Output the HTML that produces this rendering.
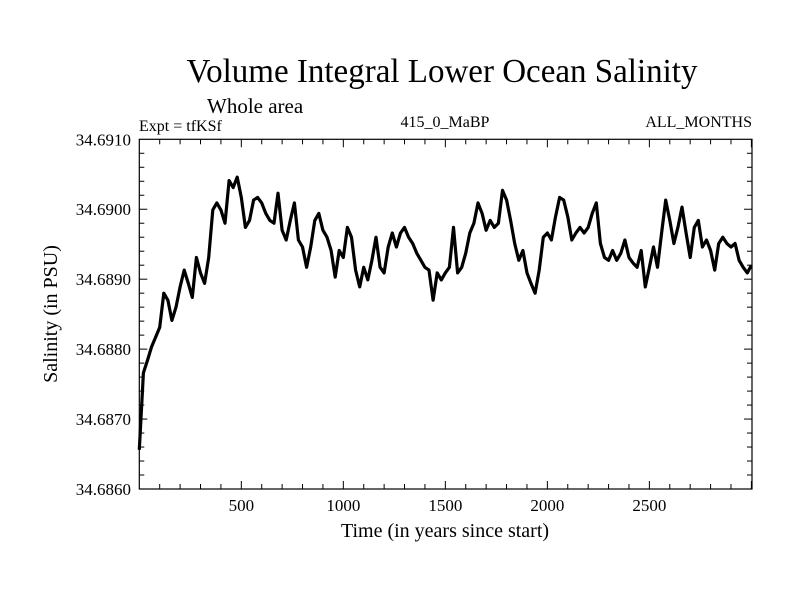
<!DOCTYPE html>
<html><head><meta charset="utf-8"><style>
html,body{margin:0;padding:0;background:#fff;}
svg{display:block;font-family:"Liberation Serif",serif;}
</style></head><body>
<svg id="chart" width="800" height="600" viewBox="0 0 800 600">
<rect x="0" y="0" width="800" height="600" fill="#fff"/>
<text x="442" y="82" font-size="34" text-anchor="middle" textLength="511" lengthAdjust="spacingAndGlyphs">Volume Integral Lower Ocean Salinity</text>
<text x="207" y="113" font-size="21">Whole area</text>
<text x="139" y="131" font-size="16">Expt = tfKSf</text>
<text x="445" y="127" font-size="16" text-anchor="middle">415_0_MaBP</text>
<text x="752" y="127" font-size="16" text-anchor="end">ALL_MONTHS</text>
<g id="axes"></g>
<g id="series"></g>
<rect x="139.3" y="139.3" width="612.7" height="349.7" fill="none" stroke="#000" stroke-width="1.2"/>
<text x="445" y="537" font-size="20" text-anchor="middle">Time (in years since start)</text>
<text x="0" y="0" font-size="20" text-anchor="middle" transform="translate(57,314) rotate(-90)">Salinity (in PSU)</text>
</svg>
<script>
const xTicks = [500, 1000, 1500, 2000, 2500];
const yTicks = [34.686, 34.687, 34.688, 34.689, 34.690, 34.691];
const yTickLabels = ["34.6860", "34.6870", "34.6880", "34.6890", "34.6900", "34.6910"];
const years = [];
const step = 20;
const salinity = [34.68656,34.68766,34.68784,34.68803,34.68817,34.68831,34.68880,34.68870,34.68841,34.68860,
34.68889,34.68913,34.68894,34.68874,34.68931,34.68909,34.68894,34.68931,34.68999,34.69009,
34.68999,34.68980,34.69041,34.69031,34.69046,34.69017,34.68974,34.68984,34.69013,34.69017,
34.69009,34.68994,34.68984,34.68980,34.69023,34.68970,34.68956,34.68984,34.69009,34.68956,
34.68946,34.68917,34.68946,34.68984,34.68994,34.68970,34.68960,34.68941,34.68903,34.68941,
34.68931,34.68974,34.68960,34.68913,34.68889,34.68917,34.68899,34.68927,34.68960,34.68917,
34.68909,34.68946,34.68966,34.68946,34.68966,34.68974,34.68960,34.68951,34.68937,34.68927,
34.68917,34.68913,34.68870,34.68909,34.68899,34.68909,34.68917,34.68974,34.68909,34.68917,
34.68937,34.68966,34.68980,34.69009,34.68994,34.68970,34.68984,34.68974,34.68980,34.69027,
34.69013,34.68984,34.68951,34.68927,34.68941,34.68909,34.68894,34.68880,34.68913,34.68960,
34.68966,34.68956,34.68989,34.69017,34.69013,34.68989,34.68956,34.68966,34.68974,34.68966,
34.68974,34.68994,34.69009,34.68951,34.68931,34.68927,34.68941,34.68927,34.68937,34.68956,
34.68931,34.68923,34.68917,34.68941,34.68889,34.68917,34.68946,34.68917,34.68966,34.69013,
34.68984,34.68951,34.68974,34.69003,34.68966,34.68931,34.68974,34.68984,34.68946,34.68956,
34.68941,34.68913,34.68951,34.68960,34.68951,34.68946,34.68951,34.68927,34.68917,34.68909,34.68920];
for (let i = 0; i < salinity.length; i++) years.push(i * step);

const X0 = 139.3, X1 = 752, Y0 = 489, Y1 = 139.3;
const xMin = 0, xMax = 3003, yMin = 34.686, yMax = 34.691;
function xs(v){ return X0 + (v - xMin) / (xMax - xMin) * (X1 - X0); }
function ys(v){ return Y0 - (v - yMin) / (yMax - yMin) * (Y0 - Y1); }
const NS = "http://www.w3.org/2000/svg";
const axes = document.getElementById('axes');
function line(x1,y1,x2,y2,name){
  const l = document.createElementNS(NS,'line');
  l.setAttribute('x1',x1);l.setAttribute('y1',y1);l.setAttribute('x2',x2);l.setAttribute('y2',y2);
  l.setAttribute('stroke','#000');l.setAttribute('stroke-width','1');
  
  
  axes.appendChild(l);
}
for (let v = 100; v < xMax; v += 100) {
  const len = (v % 500 === 0) ? 8 : 5;
  const x = xs(v);
  line(x, Y0, x, Y0 - len, 'x-tick');
  line(x, Y1, x, Y1 + len, 'x-tick-top');
}
xTicks.forEach(v => {
  const t = document.createElementNS(NS,'text');
  t.setAttribute('x', xs(v)); t.setAttribute('y', 511);
  t.setAttribute('font-size','17'); t.setAttribute('text-anchor','middle');
  t.textContent = String(v);
  
  
  axes.appendChild(t);
});
for (let k = 1; k < 25; k++) {
  const v = yMin + k * 0.0002;
  const len = (k % 5 === 0) ? 8 : 5;
  const y = ys(v);
  line(X0, y, X0 + len, y, 'y-tick');
  line(X1, y, X1 - len, y, 'y-tick-right');
}
yTicks.forEach((v, i) => {
  const t = document.createElementNS(NS,'text');
  t.setAttribute('x', 131); t.setAttribute('y', ys(v) + 6);
  t.setAttribute('font-size','17'); t.setAttribute('text-anchor','end');
  t.textContent = yTickLabels[i];
  
  
  axes.appendChild(t);
});
const p = document.createElementNS(NS,'polyline');
p.setAttribute('points', salinity.map((v,i) => xs(years[i]).toFixed(1) + ',' + ys(v).toFixed(1)).join(' '));
p.setAttribute('fill','none'); p.setAttribute('stroke','#000'); p.setAttribute('stroke-width','3.2');
p.setAttribute('stroke-linejoin','round');


document.getElementById('series').appendChild(p);
</script>
</body></html>
